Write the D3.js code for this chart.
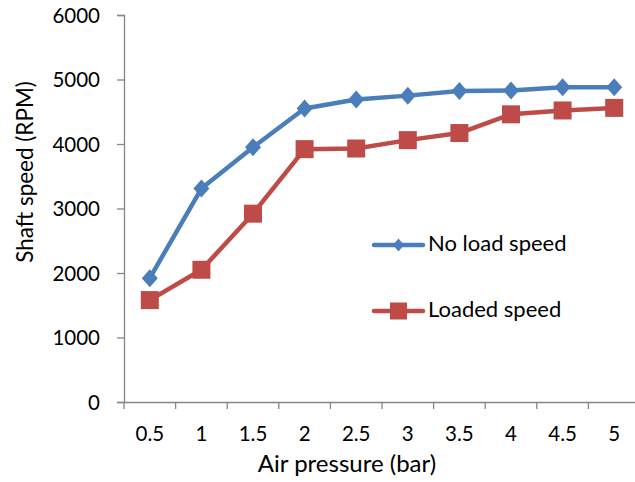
<!DOCTYPE html>
<html>
<head>
<meta charset="utf-8">
<script src="https://cdn.jsdelivr.net/npm/d3@7"></script>
<style>
  body { margin: 0; background: #fff; }
  text { font-family: Lato, "Open Sans", sans-serif; fill: #000; }
</style>
</head>
<body>
<script>
'use strict';

// air pressure steps (bar) and the measured shaft speeds (RPM)
const pressures = ["0.5", "1", "1.5", "2", "2.5", "3", "3.5", "4", "4.5", "5"];
const noLoadSpeed = [1920, 3310, 3950, 4550, 4690, 4750, 4820, 4830, 4880, 4880];
const loadedSpeed = [1580, 2050, 2920, 3920, 3930, 4060, 4170, 4460, 4520, 4560];
const yTicks = [0, 1000, 2000, 3000, 4000, 5000, 6000];

const width = 635, height = 482;
const plot = { left: 124, right: 640, top: 15, bottom: 402 };

const svg = d3.select("body").append("svg")
  .attr("width", width)
  .attr("height", height);

const x = d3.scaleBand().domain(pressures).range([plot.left, plot.right]);
const y = d3.scaleLinear().domain([0, 6000]).range([plot.bottom, plot.top]);

const axisColor = "#868686";

// y axis
const yAxis = svg.append("g")
  .attr("transform", "translate(" + plot.left + ",0)")
  .call(d3.axisLeft(y).tickValues(yTicks).tickFormat(d3.format("d")).tickSize(7).tickPadding(17));
yAxis.selectAll("text").style("font-size", "20.5px").attr("dy", "0.36em");

// x axis, ticks sit between the categories
const xAxis = svg.append("g")
  .attr("transform", "translate(0," + plot.bottom + ")")
  .call(d3.axisBottom(x).tickSize(0).tickPadding(24));
xAxis.selectAll("text").style("font-size", "20.5px");
xAxis.selectAll(".sep")
  .data(pressures)
  .enter().append("line")
    .attr("class", "sep")
    .attr("x1", (d) => x(d))
    .attr("x2", (d) => x(d))
    .attr("y1", 0)
    .attr("y2", 7);

svg.selectAll(".domain, .tick line, .sep")
  .attr("stroke", axisColor)
  .attr("stroke-width", 1.3);

// axis titles
svg.append("text")
  .attr("x", 347)
  .attr("y", 472)
  .attr("text-anchor", "middle")
  .style("font-size", "24px")
  .text("Air pressure (bar)");

svg.append("text")
  .attr("transform", "translate(33,172)rotate(-90)")
  .attr("text-anchor", "middle")
  .style("font-size", "22.5px")
  .text("Shaft speed (RPM)");

// diamond with its own width and height
const diamond = (w, h) => ({
  draw(context) {
    context.moveTo(0, -h / 2);
    context.lineTo(w / 2, 0);
    context.lineTo(0, h / 2);
    context.lineTo(-w / 2, 0);
    context.closePath();
  }
});
const square = (s) => ({
  draw(context) {
    context.rect(-s / 2, -s / 2, s, s);
  }
});

const series = [
  { name: "No load speed", values: noLoadSpeed, color: "#4A7EBB",
    marker: diamond(16, 18), legendMarker: diamond(11, 13) },
  { name: "Loaded speed", values: loadedSpeed, color: "#BE4B48",
    marker: square(18), legendMarker: square(17) }
];

const cx = (i) => x(pressures[i]) + x.bandwidth() / 2;

const line = d3.line()
  .x((d, i) => cx(i))
  .y((d) => y(d));

series.forEach((s) => {
  svg.append("path")
    .datum(s.values)
    .attr("fill", "none")
    .attr("stroke", s.color)
    .attr("stroke-width", 4.5)
    .attr("stroke-linejoin", "round")
    .attr("d", line);

  svg.selectAll(null)
    .data(s.values)
    .enter().append("path")
      .attr("d", d3.symbol().type(s.marker))
      .attr("transform", (d, i) => "translate(" + cx(i) + "," + y(d) + ")")
      .attr("fill", s.color);
});

// legend
const legend = svg.selectAll(".legend")
  .data(series)
  .enter().append("g")
    .attr("class", "legend")
    .attr("transform", (d, i) => "translate(374," + (245 + i * 66) + ")");

legend.append("line")
  .attr("x1", 0).attr("x2", 49)
  .attr("stroke", (d) => d.color)
  .attr("stroke-width", 4.5)
  .attr("stroke-linecap", "round");

legend.append("path")
  .attr("d", (d) => d3.symbol().type(d.legendMarker)())
  .attr("transform", "translate(24.5,0)")
  .attr("fill", (d) => d.color);

legend.append("text")
  .attr("x", 54)
  .attr("y", 6)
  .style("font-size", "22px")
  .text((d) => d.name);
</script>
</body>
</html>
